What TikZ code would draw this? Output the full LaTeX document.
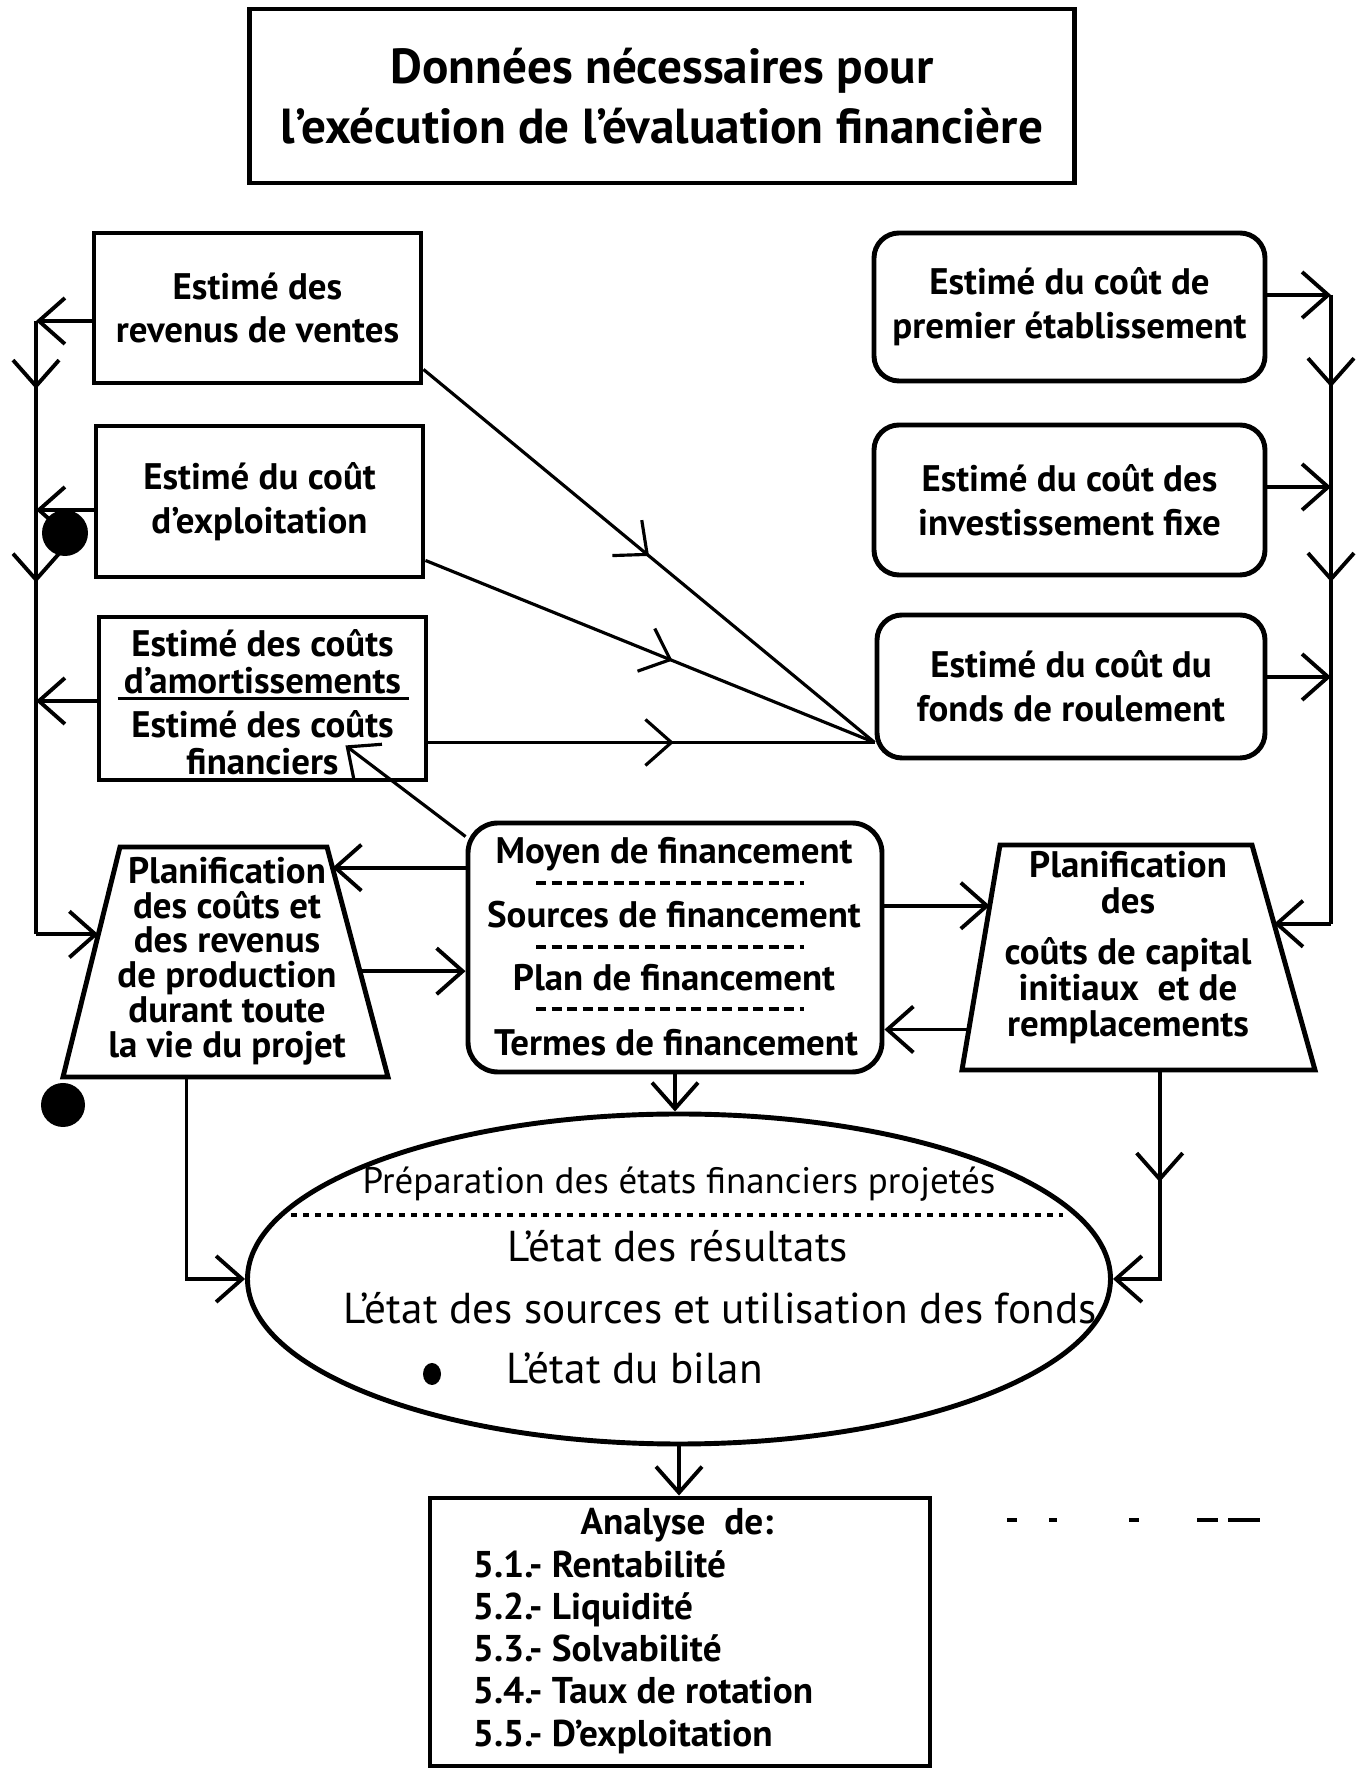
\documentclass[tikz,border=0pt]{standalone}
\usepackage{fontspec}
\setmainfont{PT Sans}
\usepackage{tikz}
\usetikzlibrary{shapes,arrows,arrows.meta,positioning,calc,decorations.markings}

\begin{document}
\begin{tikzpicture}[>={Straight Barb[length=2.6mm,width=4.6mm]}, line width=1.1pt,
    every node/.style={font=\bfseries\fontsize{10.5}{12.5}\selectfont},
    estbox/.style={rectangle, draw, line width=1.4pt, minimum width=3.27cm, minimum height=1.5cm, align=center},
    coutbox/.style={estbox, rounded corners=2.5mm, minimum width=3.91cm},
    etattext/.style={anchor=west, inner sep=0pt, font=\fontsize{12.3}{15}\selectfont},
    midarr/.style={postaction={decorate}, decoration={markings, mark=at position #1 with {\arrow{>}}}}]
        \useasboundingbox (0,0) rectangle (13.59,17.69);

        % Title
        \node[draw, line width=1.4pt, minimum width=8.25cm, minimum height=1.74cm, align=center,
              font=\bfseries\fontsize{14}{17}\selectfont] (titre) at (6.62,16.73)
              {Données nécessaires pour\\l'exécution de l'évaluation financière};

        % Estimates, left column
        \node[estbox] (rev) at (2.575,14.61) {Estimé des\\revenus de ventes};
        \node[estbox, minimum height=1.51cm] (expl) at (2.595,12.675) {Estimé du coût\\d'exploitation};
        \node[estbox, minimum height=1.63cm] (amort) at (2.625,10.705) {};
        \node[align=center, font=\bfseries\fontsize{10.5}{10.5}\selectfont] (amortA) at ([yshift=3.7mm]amort.center) {Estimé des coûts\\d'amortissements};
        \node[align=center, font=\bfseries\fontsize{10.5}{10.5}\selectfont] (amortB) at ([yshift=-4.4mm]amort.center) {Estimé des coûts\\financiers};
        \draw ([xshift=2.1mm]amort.west) -- ([xshift=-1.9mm]amort.east);

        % Estimates, right column
        \node[coutbox, minimum height=1.48cm] (etab) at (10.695,14.62) {Estimé du coût de\\premier établissement};
        \node[coutbox] (inv) at (10.695,12.69) {Estimé du coût des\\investissement fixe};
        \node[coutbox, minimum height=1.43cm, minimum width=3.88cm] (fdr) at (10.71,10.825) {Estimé du coût du\\fonds de roulement};

        % Planning trapezia
        \coordinate (tLsw) at (0.63,6.92);
        \coordinate (tLse) at (3.88,6.92);
        \coordinate (tLne) at (3.27,9.22);
        \coordinate (tLnw) at (1.20,9.22);
        \draw[line width=1.4pt] (tLsw) -- (tLse) -- (tLne) -- (tLnw) -- cycle;
        \node[align=center, font=\bfseries\fontsize{10.5}{9.9}\selectfont] (planL) at (2.27,8.08)
              {Planification\\des coûts et\\des revenus\\de production\\durant toute\\la vie du projet};
        \coordinate (tRsw) at (9.62,6.99);
        \coordinate (tRse) at (13.15,6.99);
        \coordinate (tRne) at (12.52,9.24);
        \coordinate (tRnw) at (10.00,9.24);
        \draw[line width=1.4pt] (tRsw) -- (tRse) -- (tRne) -- (tRnw) -- cycle;
        \node[align=center, font=\bfseries\fontsize{10.5}{10.2}\selectfont] (planR) at (11.28,8.215)
              {Planification\\des\\[1.5mm]coûts de capital\\initiaux\ \ et de\\remplacements};

        % Financing box
        \node[draw, line width=1.4pt, rounded corners=3mm, minimum width=4.14cm, minimum height=2.49cm] (cbox) at (6.75,8.215) {};
        \node (moyen) at (6.74,9.15) {Moyen de financement};
        \node (sources) at (6.74,8.54) {Sources de financement};
        \node (plan) at (6.74,7.91) {Plan de financement};
        \node (termes) at (6.76,7.26) {Termes de financement};
        \draw[dash pattern=on 1mm off 0.55mm] (5.36,8.86) -- (8.04,8.86);
        \draw[dash pattern=on 1mm off 0.55mm] (5.36,8.22) -- (8.04,8.22);
        \draw[dash pattern=on 1mm off 0.55mm] (5.36,7.60) -- (8.04,7.60);

        % Projected statements
        \node[draw, ellipse, line width=1.4pt, minimum width=8.63cm, minimum height=3.30cm] (etats) at (6.79,4.90) {};
        \draw[line width=0.9pt, dash pattern=on 0.6mm off 0.6mm] (2.91,5.54) -- (10.63,5.54);
        \node[font=\fontsize{10.5}{12}\selectfont] (prep) at (6.79,5.85) {Préparation des états financiers projetés};
        \node[etattext] (res) at (5.06,5.23) {L'état des résultats};
        \node[etattext] (srcs) at (3.42,4.61) {L'état des sources et utilisation des fonds};
        \node[etattext] (bilan) at (5.05,4.01) {L'état du bilan};

        % Analysis
        \node[draw, line width=1.4pt, minimum width=5.0cm, minimum height=2.68cm] (ana) at (6.80,1.37) {};
        \node[font=\bfseries\fontsize{10.6}{12}\selectfont] (anaT) at (6.77,2.44) {Analyse\ \ de:};
        \node[anchor=west, align=left, inner sep=0pt, font=\bfseries\fontsize{10.6}{12}\selectfont] (anaL) at (4.71,1.17)
              {5.1.- Rentabilité\\5.2.- Liquidité\\5.3.- Solvabilité\\5.4.- Taux de rotation\\5.5.- D'exploitation};

        % Points on the slanted sides
        \coordinate (pL) at ($(tLnw)!0.38!(tLsw)$);
        \coordinate (pR) at ($(tRne)!0.35!(tRse)$);
        \coordinate (tLa) at ($(tLne)!0.09!(tLse)$);
        \coordinate (tLb) at ($(tLne)!0.54!(tLse)$);
        \coordinate (tRa) at ($(tRnw)!0.27!(tRsw)$);
        \coordinate (tRb) at ($(tRnw)!0.82!(tRsw)$);
        \coordinate (tLout) at ($(tLsw)!0.38!(tLse)$);
        \coordinate (tRout) at ($(tRsw)!0.56!(tRse)$);

        % Left collector
        \coordinate (l1) at (0.36,14.48);
        \coordinate (l2) at (0.36,12.59);
        \coordinate (l3) at (0.36,10.68);
        \coordinate (l4) at (l1 |- pL);
        \draw[->] (rev.west |- l1) -- (l1);
        \draw[->] (expl.west |- l2) -- (l2);
        \draw[->] (amort.west |- l3) -- (l3);
        \draw[midarr=0.36] (l1) -- (l2);
        \draw[midarr=0.38] (l2) -- (l3);
        \draw (l3) -- (l4);
        \draw[->] (l4) -- (pL);

        % Right collector
        \coordinate (r1) at (13.31,14.74);
        \coordinate (r2) at (13.31,12.82);
        \coordinate (r3) at (13.31,10.92);
        \coordinate (r4) at (r1 |- pR);
        \draw[->] (etab.east |- r1) -- (r1);
        \draw[->] (inv.east |- r2) -- (r2);
        \draw[->] (fdr.east |- r3) -- (r3);
        \draw[midarr=0.48] (r1) -- (r2);
        \draw[midarr=0.50] (r2) -- (r3);
        \draw (r3) -- (r4);
        \draw[->] (r4) -- (pR);

        % Links to working capital
        \coordinate (fin) at ([yshift=1.8mm]fdr.south west);
        \draw[line width=0.9pt, midarr=0.5] ([yshift=1.6mm]rev.south east) -- (fin);
        \draw[line width=0.9pt, midarr=0.55] ([yshift=1.9mm]expl.south east) -- (fin);
        \draw[line width=0.9pt, midarr=0.55] (amort.east |- fin) -- (fin);
        \draw[line width=0.9pt, ->] ([yshift=-1.6mm]cbox.north west) -- ([xshift=-8.3mm,yshift=3.7mm]amort.south east);

        % Financing links
        \draw[->] (cbox.west |- tLa) -- (tLa);
        \draw[->] (tLb) -- (cbox.west |- tLb);
        \draw[->] (cbox.east |- tRa) -- (tRa);
        \draw[->] (tRb) -- (cbox.east |- tRb);

        % Towards the statements
        \draw[->] (cbox.south) -- (cbox.south |- etats.north);
        \draw[->] (tLout) |- (etats.west);
        \draw[->, midarr=1.12cm] (tRout) |- (etats.east);
        \draw[->] (etats.south) -- (etats.south |- ana.north);

        % Marks on the page
        \fill (0.65,12.36) circle (0.23);
        \fill (0.63,6.64) circle (0.22);
        \fill (4.32,3.95) ellipse (0.09 and 0.11);
        \draw (10.07,2.49) -- (10.17,2.49);
        \draw (10.49,2.49) -- (10.57,2.49);
        \draw (11.29,2.49) -- (11.39,2.49);
        \draw (11.97,2.49) -- (12.18,2.49);
        \draw (12.28,2.49) -- (12.60,2.49);
    \end{tikzpicture}
\end{document}
